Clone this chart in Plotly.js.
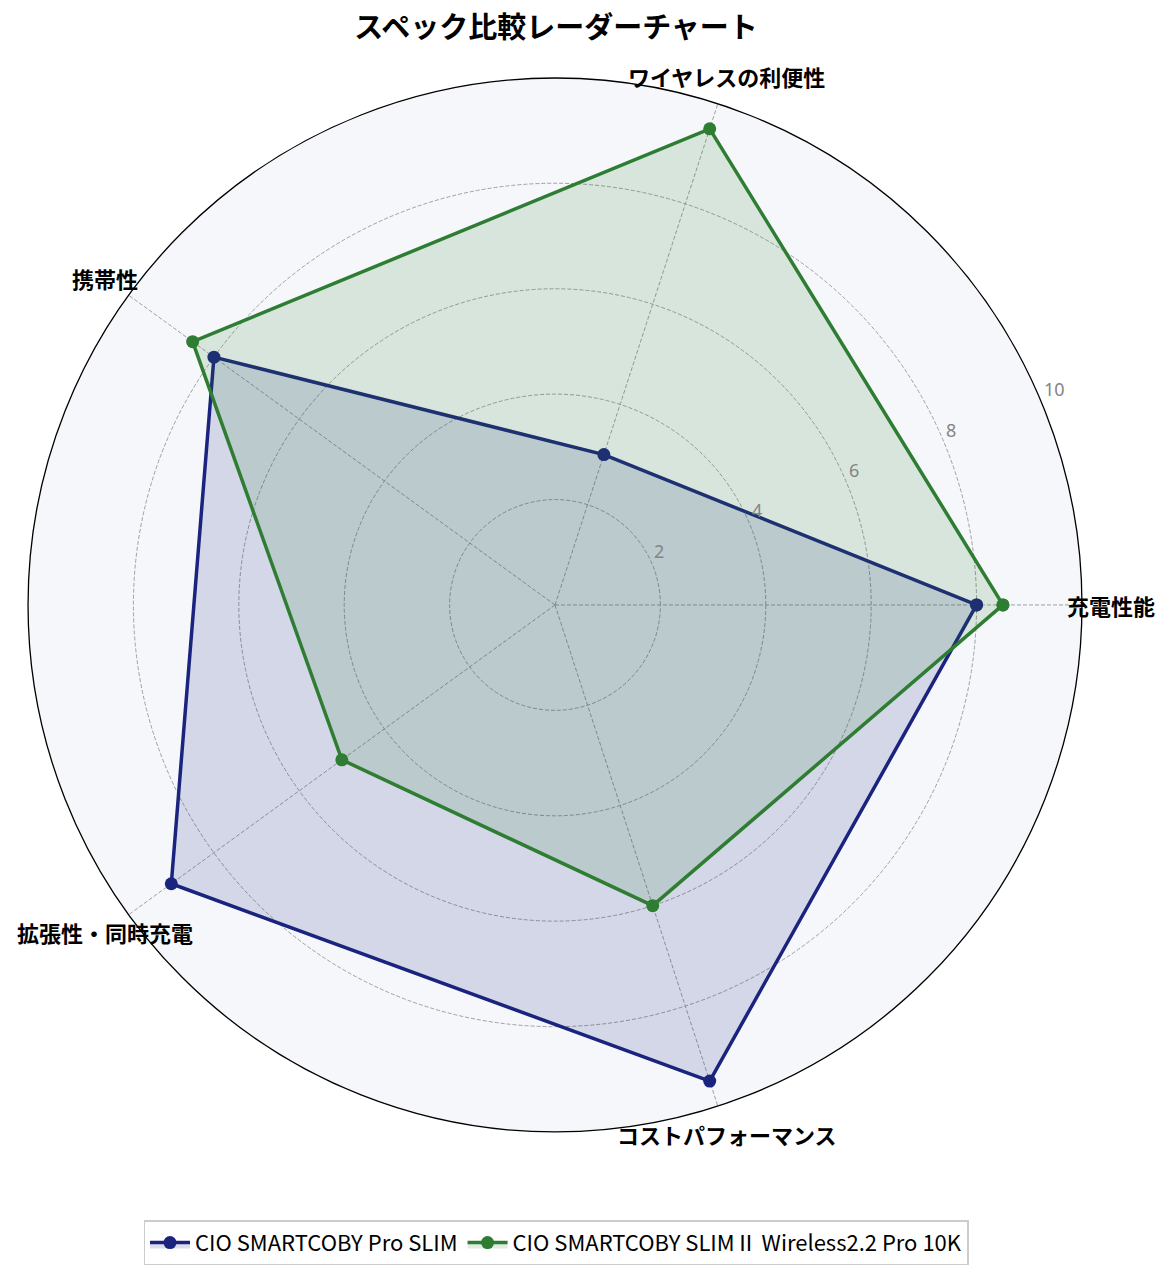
<!DOCTYPE html>
<html>
<head>
<meta charset="utf-8">
<script src="https://cdn.plot.ly/plotly-3.0.1.min.js"></script>
<style>
  html, body { margin: 0; padding: 0; background: #ffffff; }
  #chart { width: 1173px; height: 1276px; }
</style>
</head>
<body>
<div id="chart"></div>
<script>
// 評価軸
const categories = ['充電性能', 'ワイヤレスの利便性', '携帯性', '拡張性・同時充電', 'コストパフォーマンス'];

// 製品ごとのスコア
const proSlimName = 'CIO SMARTCOBY Pro SLIM';
const proSlimScores = [8, 3, 8, 9, 9.5];

const slim2Name = 'CIO SMARTCOBY SLIMⅡ Wireless2.2 Pro 10K';
const slim2Scores = [8.5, 9.5, 8.5, 5, 6];

const radialMax = 10;
const radialTicks = [2, 4, 6, 8, 10];

const jpFont = '"Noto Sans CJK JP", "Noto Sans", sans-serif';

const W = 1173, H = 1276;
const polarX = [0.0239, 0.9224];
const polarY = [0.1129, 0.9389];
const rLabelAngle = 22.5; // 目盛り数字を並べる角度

// 線を閉じるため最初の点を末尾に足す
function closeLoop(arr) {
    return arr.concat([arr[0]]);
}

const traces = [
    {
        type: 'scatterpolar',
        name: proSlimName,
        r: closeLoop(proSlimScores),
        theta: closeLoop(categories),
        mode: 'lines+markers',
        line: { color: '#1a237e', width: 3.5 },
        marker: { color: '#1a237e', size: 13 },
        fill: 'toself',
        fillcolor: 'rgba(26,35,126,0.15)'
    },
    {
        type: 'scatterpolar',
        name: slim2Name,
        r: closeLoop(slim2Scores),
        theta: closeLoop(categories),
        mode: 'lines+markers',
        line: { color: '#2e7d32', width: 3.5 },
        marker: { color: '#2e7d32', size: 13 },
        fill: 'toself',
        fillcolor: 'rgba(46,125,50,0.15)'
    }
];

// 極座標の中心と半径（paper上のピクセル）
const cx = (polarX[0] + polarX[1]) / 2 * W;
const cy = (polarY[0] + polarY[1]) / 2 * H;
const R = (polarX[1] - polarX[0]) / 2 * W;

// 軸ラベルは外周の少し外側に中央揃えで置く（matplotlib風）
const labelR = R * 1.055;
const axisLabels = categories.map((c, i) => {
    const a = i * 2 * Math.PI / categories.length;
    return {
        text: '<b>' + c + '</b>',
        xref: 'paper', yref: 'paper',
        x: (cx + labelR * Math.cos(a)) / W,
        y: (cy + labelR * Math.sin(a)) / H,
        xanchor: 'center', yanchor: 'middle',
        showarrow: false,
        font: { family: jpFont, size: 22, color: '#000000' }
    };
});

// 半径方向の目盛り数字（22.5度の線上、左下揃え）
const ra = rLabelAngle * Math.PI / 180;
const radialLabels = radialTicks.map(v => {
    const d = v / radialMax * R;
    return {
        text: String(v),
        xref: 'paper', yref: 'paper',
        x: (cx + d * Math.cos(ra)) / W,
        y: (cy + d * Math.sin(ra)) / H,
        xanchor: 'left', yanchor: 'bottom',
        showarrow: false,
        font: { family: '"Noto Sans", sans-serif', size: 18, color: '#858585' }
    };
});

const layout = {
    width: W,
    height: H,
    paper_bgcolor: '#ffffff',
    font: { family: jpFont, color: '#000000' },
    margin: { t: 0, b: 0, l: 0, r: 0 },
    title: {
        text: '<b>スペック比較レーダーチャート</b>',
        font: { family: jpFont, size: 29, color: '#000000' },
        x: 0.474, xanchor: 'center',
        y: 0.978, yanchor: 'middle'
    },
    annotations: axisLabels.concat(radialLabels),
    polar: {
        domain: { x: polarX, y: polarY },
        bgcolor: '#f5f7fb',
        angularaxis: {
            type: 'category',
            rotation: 0,
            direction: 'counterclockwise',
            showticklabels: false,
            showline: true,
            linecolor: '#000000',
            linewidth: 1.3,
            showgrid: true,
            gridcolor: '#a0a0a0',
            griddash: '4px,2px',
            gridwidth: 0.8,
            ticks: ''
        },
        radialaxis: {
            range: [0, radialMax],
            tickvals: radialTicks,
            showticklabels: false,
            angle: rLabelAngle,
            showline: false,
            ticks: '',
            showgrid: true,
            gridcolor: '#a0a0a0',
            griddash: '4px,2px',
            gridwidth: 0.8
        }
    },
    showlegend: true,
    legend: {
        orientation: 'h',
        x: 0.474, xanchor: 'center',
        y: 0.026, yanchor: 'middle',
        bgcolor: '#ffffff',
        bordercolor: '#cccccc',
        borderwidth: 1.5,
        itemwidth: 40,
        font: { family: jpFont, size: 22, color: '#000000' }
    }
};

Plotly.newPlot('chart', traces, layout, { displayModeBar: false });
</script>
</body>
</html>
